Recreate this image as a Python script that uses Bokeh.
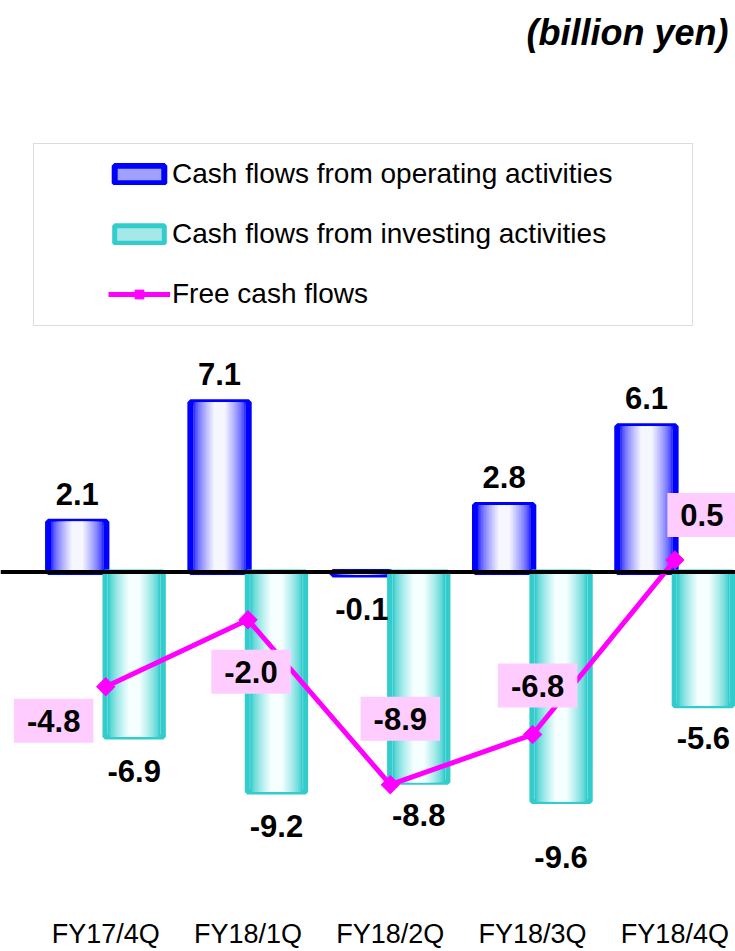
import numpy as np
from bokeh.plotting import figure
from bokeh.models import (ColumnDataSource, Span, Legend, LegendItem, BoxAnnotation,
                          Label, FixedTicker, Range1d)
from bokeh.core.properties import value
from bokeh.embed import file_html
from bokeh.resources import INLINE

# ---- data (billion yen) ----
quarters = ["FY17/4Q", "FY18/1Q", "FY18/2Q", "FY18/3Q", "FY18/4Q"]
operating = [2.1, 7.1, -0.1, 2.8, 6.1]
investing = [-6.9, -9.2, -8.8, -9.6, -5.6]
free_cf = [-4.8, -2.0, -8.9, -6.8, 0.5]

# ---- layout ----
FONT = "Liberation Sans"
W, H = 735, 951
AXIS_H = 44                 # space under the frame for the quarter labels
FRAME_H = H - AXIS_H
PX_PER_CAT = 142.3
FIRST_CAT_PX = 105.2
ZERO_PX = 571.5
PX_PER_UNIT = 23.9

BAR_W = 0.41
BAR_SHIFT = 0.2

idx = np.arange(len(quarters))

p = figure(width=W, height=H, output_backend="svg", toolbar_location=None,
           x_range=Range1d(-FIRST_CAT_PX / PX_PER_CAT, (W - FIRST_CAT_PX) / PX_PER_CAT),
           y_range=Range1d(-(FRAME_H - ZERO_PX) / PX_PER_UNIT, ZERO_PX / PX_PER_UNIT),
           min_border_left=0, min_border_right=0, min_border_top=0,
           min_border_bottom=AXIS_H)
p.outline_line_color = None
p.xgrid.visible = False
p.ygrid.visible = False
p.yaxis.visible = False
p.background_fill_color = "white"
p.border_fill_color = "white"

xa = p.xaxis[0]
xa.ticker = FixedTicker(ticks=list(idx))
xa.major_label_overrides = {int(i): q for i, q in zip(idx, quarters)}
xa.axis_line_color = None
xa.major_tick_line_color = None
xa.minor_tick_line_color = None
xa.major_tick_out = 0
xa.major_label_standoff = 11
xa.major_label_text_font = FONT
xa.major_label_text_font_size = "27px"
xa.major_label_text_color = "black"


def mix(c1, c2, t):
    a = [int(c1[i:i + 2], 16) for i in (1, 3, 5)]
    b = [int(c2[i:i + 2], 16) for i in (1, 3, 5)]
    return "#%02x%02x%02x" % tuple(round(a[j] + (b[j] - a[j]) * t) for j in range(3))


def shaded_bars(xs, vals, edge, inner, outline, legend_fill, line_w):
    """Bars with a horizontal edge-to-centre shading built from nested strips."""
    src = ColumnDataSource(dict(x=xs, top=vals))
    base = p.vbar(x="x", top="top", bottom=0, width=BAR_W, source=src,
                  fill_color=legend_fill, line_color=outline, line_width=line_w)
    n = 14
    for k in range(n):
        frac = 0.9 - 0.7 * k / (n - 1)
        t = (k / (n - 1)) ** 0.7
        p.vbar(x="x", top="top", bottom=0, width=BAR_W * frac, source=src,
               fill_color=mix(edge, inner, t), line_color=None)
    return base


op_r = shaded_bars(list(idx - BAR_SHIFT), operating, "#2e2eff", "#f6f6ff",
                   "#0000ff", "#a0a0ff", 6)
inv_r = shaded_bars(list(idx + BAR_SHIFT), investing, "#33cccc", "#f6ffff",
                    "#33cccc", "#a6e8e8", 5)

# zero line
p.add_layout(Span(location=0, dimension="width", line_color="black", line_width=4))

# free cash flow line
fcf_src = ColumnDataSource(dict(x=list(idx), y=free_cf))
fcf_line = p.line("x", "y", source=fcf_src, line_color="#ff00ff", line_width=5)
fcf_pts = p.scatter("x", "y", source=fcf_src, marker="square", angle=np.pi / 4,
                    size=13, fill_color="#ff00ff", line_color="#ff00ff")

# value labels
LABEL_SIZE = "31px"
op_dy = [-28 if v > 0 else 35 for v in operating]
p.text(x=list(idx - BAR_SHIFT), y=operating, text=[f"{v:.1f}" for v in operating],
       y_offset=op_dy, text_font=value(FONT), text_font_style="bold",
       text_font_size=LABEL_SIZE, text_align="center", text_baseline="middle",
       text_color="black")

inv_dy = [34, 34, 33, 56, 32]
p.text(x=list(idx + BAR_SHIFT), y=investing, text=[f"{v:.1f}" for v in investing],
       y_offset=inv_dy, text_font=value(FONT), text_font_style="bold",
       text_font_size=LABEL_SIZE, text_align="center", text_baseline="middle",
       text_color="black")

fcf_dx = [-52, 3, 10, 5, 27]
fcf_dy = [34, 52, -66, -49, -45]
p.text(x=list(idx), y=free_cf, text=[f"{v:.1f}" for v in free_cf],
       x_offset=fcf_dx, y_offset=fcf_dy, text_font=value(FONT),
       text_font_style="bold", text_font_size=LABEL_SIZE, text_align="center",
       text_baseline="middle", text_color="black",
       background_fill_color="#ffccff",
       padding=dict(left=13, right=13, top=11, bottom=11))

# legend frame
p.add_layout(BoxAnnotation(left=33, right=692, top=FRAME_H - 143, bottom=FRAME_H - 325,
                           left_units="screen", right_units="screen",
                           top_units="screen", bottom_units="screen",
                           fill_alpha=0, line_color="#8c8c8c", line_width=1))

legend = Legend(items=[
    LegendItem(label="Cash flows from operating activities", renderers=[op_r]),
    LegendItem(label="Cash flows from investing activities", renderers=[inv_r]),
    LegendItem(label="Free cash flows", renderers=[fcf_line, fcf_pts]),
], location=(108, FRAME_H - 310), orientation="vertical",
    glyph_width=62, glyph_height=22, label_standoff=2, label_height=32,
    spacing=28, padding=0, margin=0, border_line_alpha=0,
    background_fill_alpha=0, label_text_font=FONT,
    label_text_font_size="28px", label_text_color="black")
p.add_layout(legend)

# unit note
p.add_layout(Label(x=728, y=FRAME_H - 32, x_units="screen", y_units="screen",
                   text="(billion yen)", text_align="right", text_baseline="middle",
                   text_font=FONT, text_font_style="bold italic",
                   text_font_size="36px", text_color="black"))

open("out.html", "w").write(file_html(p, INLINE))
